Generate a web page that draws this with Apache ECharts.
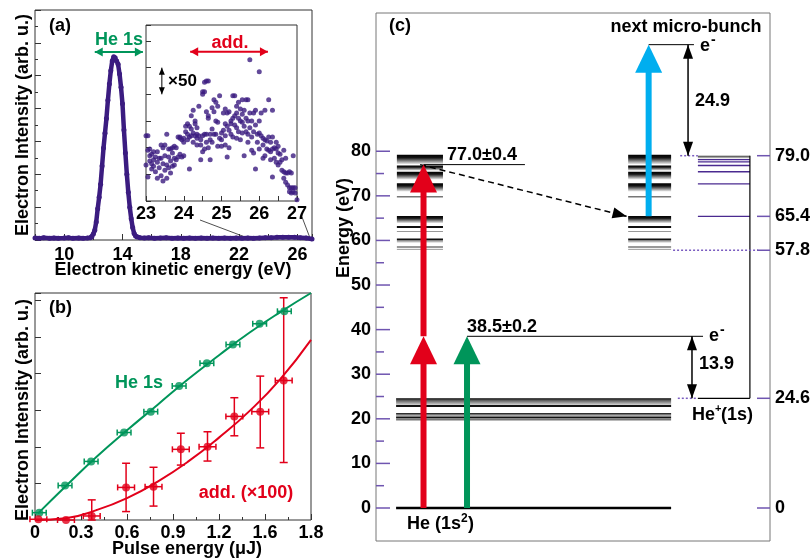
<!DOCTYPE html>
<html>
<head>
<meta charset="utf-8">
<title>He 1s / add. spectra and level scheme</title>
<script src="https://cdn.jsdelivr.net/npm/echarts@6.0.0/dist/echarts.min.js"></script>
<style>
  html, body { margin: 0; padding: 0; background: #fff; }
  #chart { width: 811px; height: 559px; }
</style>
</head>
<body>
<div id="chart"></div>
<script>
const FONT = '"Liberation Sans", Arial, Helvetica, sans-serif';
const PURPLE = '#3b1c80';
const GREEN = '#00955a';
const RED = '#e2001a';
const BLUE = '#00aeef';
const TICK_PURPLE = '#6f55b0';
const ION_PURPLE = '#4a2a90';
const FRAME = '#333';

// ---- (a) electron spectrum, eV vs arb. u.
const spectrum = [
  [8.0, 0.06], [8.3, 0.05], [8.6, 0.07], [9.0, 0.05], [9.3, 0.06], [9.6, 0.05], [10.0, 0.06],
  [10.3, 0.07], [10.6, 0.05], [11.0, 0.06], [11.3, 0.05], [11.6, 0.06], [11.8, 0.07], [11.9, 0.1],
  [12.0, 0.18], [12.1, 0.3], [12.2, 0.55], [12.3, 0.95], [12.4, 1.3], [12.5, 1.7], [12.6, 2.25],
  [12.7, 2.8], [12.8, 3.25], [12.9, 3.7], [13.0, 4.25], [13.1, 4.75], [13.2, 5.15], [13.3, 5.45],
  [13.4, 5.58], [13.5, 5.55], [13.6, 5.45], [13.7, 5.35], [13.8, 5.05], [13.9, 4.65], [14.0, 4.15],
  [14.1, 3.35], [14.2, 2.65], [14.3, 2.0], [14.4, 1.45], [14.5, 1.0], [14.6, 0.65], [14.7, 0.38],
  [14.8, 0.2], [14.9, 0.12], [15.0, 0.09], [15.2, 0.07], [15.5, 0.06], [15.8, 0.07], [16.2, 0.05],
  [16.6, 0.06], [17.0, 0.07], [17.4, 0.05], [17.8, 0.06], [18.2, 0.05], [18.6, 0.06], [19.0, 0.05],
  [19.4, 0.06], [19.8, 0.05], [20.2, 0.06], [20.6, 0.05], [21.0, 0.06], [21.4, 0.05], [21.8, 0.06],
  [22.2, 0.05], [22.6, 0.06], [23.0, 0.05], [23.4, 0.06], [23.8, 0.07], [24.2, 0.07], [24.6, 0.08],
  [25.0, 0.08], [25.4, 0.08], [25.8, 0.08], [26.2, 0.07], [26.6, 0.06], [27.0, 0.03]
];

// inset, 23-27 eV, scaled x50
const insetSpectrum = [
  [23.0, 2.45], [23.0, 1.35], [23.05, 2.45], [23.05, 1.9], [23.05, 0.9], [23.1, 1.95], [23.1, 1.7],
  [23.1, 1.5], [23.15, 1.75], [23.15, 1.4], [23.15, 1.2], [23.2, 1.85], [23.2, 1.55], [23.2, 1.3],
  [23.25, 1.65], [23.25, 1.1], [23.3, 1.85], [23.3, 0.85], [23.3, 1.45], [23.35, 1.6], [23.35, 1.25],
  [23.4, 2.1], [23.4, 1.6], [23.4, 0.95], [23.45, 2.0], [23.45, 1.4], [23.45, 0.75], [23.5, 2.1],
  [23.5, 1.7], [23.5, 1.15], [23.55, 2.5], [23.55, 1.35], [23.55, 0.85], [23.6, 1.95], [23.6, 1.65],
  [23.6, 1.25], [23.65, 1.95], [23.65, 1.5], [23.65, 1.05], [23.7, 2.0], [23.7, 1.8], [23.7, 1.3],
  [23.75, 2.05], [23.75, 1.6], [23.75, 1.35], [23.8, 2.0], [23.8, 1.55], [23.85, 2.4], [23.85, 1.65],
  [23.9, 2.4], [23.9, 2.35], [23.9, 1.75], [23.95, 2.3], [23.95, 1.65], [24.0, 2.35], [24.0, 2.2],
  [24.0, 1.7], [24.05, 2.8], [24.05, 2.6], [24.1, 2.9], [24.1, 2.5], [24.1, 2.3], [24.15, 2.8],
  [24.15, 2.4], [24.15, 1.2], [24.2, 3.2], [24.2, 2.7], [24.2, 2.45], [24.25, 3.4], [24.25, 2.55],
  [24.25, 2.2], [24.3, 3.0], [24.3, 2.45], [24.3, 2.9], [24.35, 2.75], [24.35, 2.5], [24.35, 2.35],
  [24.35, 2.1], [24.4, 3.55], [24.4, 2.45], [24.45, 2.3], [24.45, 2.1], [24.45, 1.55], [24.5, 4.1],
  [24.5, 4.0], [24.5, 2.45], [24.5, 1.85], [24.55, 4.1], [24.55, 4.45], [24.55, 2.5], [24.55, 1.95],
  [24.6, 4.5], [24.6, 3.35], [24.6, 2.5], [24.6, 2.2], [24.65, 4.5], [24.65, 3.2], [24.65, 3.1],
  [24.65, 2.0], [24.7, 2.5], [24.7, 2.3], [24.7, 1.55], [24.75, 3.5], [24.75, 2.7], [24.75, 2.2],
  [24.8, 3.8], [24.8, 3.35], [24.8, 2.5], [24.85, 3.7], [24.85, 3.0], [24.85, 2.5], [24.9, 3.55],
  [24.9, 2.95], [24.9, 2.05], [24.95, 3.95], [24.95, 2.35], [25.0, 2.55], [25.0, 2.3], [25.0, 2.05],
  [25.05, 3.3], [25.05, 2.65], [25.1, 3.45], [25.1, 2.9], [25.1, 2.45], [25.1, 2.1], [25.15, 3.3],
  [25.15, 2.8], [25.15, 1.65], [25.2, 3.35], [25.2, 2.65], [25.2, 2.0], [25.25, 3.0], [25.25, 2.9],
  [25.25, 2.5], [25.3, 3.95], [25.3, 3.1], [25.3, 2.4], [25.35, 3.95], [25.35, 3.2], [25.35, 2.85],
  [25.4, 3.55], [25.4, 3.3], [25.4, 2.75], [25.4, 2.35], [25.45, 3.7], [25.45, 3.1], [25.45, 2.6],
  [25.5, 3.45], [25.5, 3.0], [25.5, 2.3], [25.55, 3.8], [25.55, 3.25], [25.55, 2.95], [25.55, 2.55],
  [25.6, 3.4], [25.6, 2.8], [25.6, 1.7], [25.65, 3.8], [25.65, 3.1], [25.65, 2.6], [25.7, 3.8],
  [25.7, 3.0], [25.7, 2.5], [25.7, 2.2], [25.75, 5.3], [25.75, 3.3], [25.75, 2.75], [25.8, 3.0],
  [25.8, 2.4], [25.8, 1.9], [25.85, 3.3], [25.85, 2.6], [25.85, 1.8], [25.9, 3.4], [25.9, 2.85],
  [25.9, 1.2], [25.95, 2.5], [25.95, 2.2], [26.0, 4.85], [26.0, 3.0], [26.0, 2.55], [26.0, 1.95],
  [26.05, 3.3], [26.05, 2.45], [26.1, 2.35], [26.1, 2.1], [26.1, 1.6], [26.15, 3.4], [26.15, 2.3],
  [26.15, 1.7], [26.2, 2.25], [26.2, 1.95], [26.25, 3.8], [26.25, 2.4], [26.25, 1.9], [26.3, 2.2],
  [26.3, 1.85], [26.3, 1.55], [26.35, 3.4], [26.35, 2.4], [26.35, 1.95], [26.35, 0.9], [26.4, 2.0],
  [26.4, 1.6], [26.45, 2.2], [26.45, 1.95], [26.45, 1.45], [26.5, 2.05], [26.5, 1.8], [26.5, 1.35],
  [26.55, 1.75], [26.55, 1.45], [26.6, 1.55], [26.6, 1.15], [26.65, 1.9], [26.65, 1.1], [26.65, 0.85],
  [26.7, 1.6], [26.7, 1.05], [26.7, 0.7], [26.75, 1.05], [26.75, 0.6], [26.8, 1.1], [26.8, 0.5],
  [26.8, 0.35], [26.85, 1.05], [26.85, 0.5], [26.85, 0.3], [26.9, 1.7], [26.9, 0.5], [26.9, 0.35],
  [26.95, 0.5], [26.95, 0.3], [27.0, 0.05]
];

// ---- (b) yield vs pulse energy (uJ)
const pulseHe = [0.028, 0.196, 0.366, 0.581, 0.755, 0.94, 1.121, 1.291, 1.465, 1.626];
const yieldHe = [0.2, 0.94, 1.6, 2.39, 2.96, 3.66, 4.28, 4.79, 5.36, 5.7];
const pulseErrHe = [0.045, 0.045, 0.045, 0.045, 0.045, 0.045, 0.045, 0.045, 0.045, 0.045];
const pulseAdd = [0.022, 0.202, 0.37, 0.594, 0.773, 0.951, 1.125, 1.3, 1.469, 1.622];
const yieldAdd = [0.02, 0.0, 0.11, 0.89, 0.91, 1.93, 2.0, 2.83, 2.96, 3.81];
const pulseErrAdd = [0.055, 0.055, 0.055, 0.055, 0.055, 0.055, 0.055, 0.055, 0.055, 0.055];
const addErrLow = [0.02, 0.0, 0.0, 0.23, 0.38, 1.5, 1.61, 2.3, 1.97, 1.57];
const addErrHigh = [0.02, 0.0, 0.55, 1.55, 1.44, 2.37, 2.41, 3.34, 3.93, 6.07];
const fitHe = [[0.02, 0.18], [0.2, 0.92], [0.4, 1.72], [0.6, 2.45], [0.8, 3.15], [1.0, 3.85],
  [1.2, 4.5], [1.4, 5.12], [1.6, 5.68], [1.8, 6.2]];
const fitAdd = [[0, 0], [0.2, 0.05], [0.4, 0.27], [0.6, 0.6], [0.8, 1.05], [1.0, 1.6],
  [1.2, 2.25], [1.4, 2.98], [1.6, 3.85], [1.8, 4.92]];
const pulseTickLabels = ['0', '0.3', '0.6', '0.9', '1.2', '1.6', '1.8'];

// ---- (c) level scheme, eV
const energyTicks = [0, 10, 20, 30, 40, 50, 60, 70, 80];
const energyMinorTicks = [5, 15, 25, 35, 45, 55, 65, 75];
const markedEnergies = [79.0, 65.4, 57.8, 24.6, 0];
const doublyBands = [[79.2, 77.0], [76.8, 75.6], [75.4, 73.6], [72.8, 70.9], [65.5, 63.8]];
const doublyLines = [69.8, 63.0, 62.0, 60.2, 59.7, 58.5, 58.0];
const singlyBands = [[24.6, 23.0], [21.3, 20.5]];
const singlyLines = [22.85, 20.3, 19.8];
const ionLevels = [78.1, 77.6, 76.8, 75.4, 72.7, 65.4];
const ionLimitBand = [79.0, 78.4];
const groundState = 0;
const heIonization = 24.6;
const heDoubleIonization = 79.0;
const heN2Threshold = 65.4;
const lowestDoubly = 57.8;
const photonEnergy = 38.5;
const twoPhotonEnergy = 77.0;
const finalEnergy = 103.9;

// layout of panel (c) columns, in x units 0..100 across the frame
const doublyCols = [[5.3, 17.0], [64.0, 74.9]];
const wideCol = [5.1, 74.9];
const ionCol = [81.7, 94.9];
const redX = 12.06, greenX = 23.1, blueX = 69.2;

const bold = (size) => 'bold ' + size + 'px ' + FONT;

const chart = echarts.init(document.getElementById('chart'), null, { renderer: 'canvas' });

function headPoints(tip, tail, len, half) {
  const dx = tip[0] - tail[0], dy = tip[1] - tail[1];
  const d = Math.hypot(dx, dy) || 1;
  const ux = dx / d, uy = dy / d;
  const bx = tip[0] - ux * len, by = tip[1] - uy * len;
  return [tip, [bx - uy * half, by + ux * half], [bx + uy * half, by - ux * half]];
}

// styles for thin arrows
const arrowStyles = [
  { color: GREEN, lw: 2, len: 8, half: 4.5, heads: 2 },
  { color: RED, lw: 2, len: 8, half: 4.5, heads: 2 },
  { color: '#000', lw: 1, len: 7, half: 3, heads: 2 },
  { color: '#000', lw: 1.5, len: 14, half: 5, heads: 2 },
  { color: '#000', lw: 1.5, len: 14, half: 5.5, heads: 1, dash: [6, 4] }
];

function renderArrow(params, api) {
  const s = arrowStyles[api.value(4)];
  const p1 = api.coord([api.value(0), api.value(1)]);
  const p2 = api.coord([api.value(2), api.value(3)]);
  const children = [{
    type: 'line',
    shape: { x1: p1[0], y1: p1[1], x2: p2[0], y2: p2[1] },
    style: { stroke: s.color, lineWidth: s.lw, lineDash: s.dash || null }
  }, {
    type: 'polygon', shape: { points: headPoints(p2, p1, s.len, s.half) }, style: { fill: s.color }
  }];
  if (s.heads === 2) {
    children.push({ type: 'polygon', shape: { points: headPoints(p1, p2, s.len, s.half) }, style: { fill: s.color } });
  }
  return { type: 'group', children: children };
}

function errorBars(color) {
  return function (params, api) {
    const x = api.value(0), y = api.value(1), dx = api.value(2), lo = api.value(3), hi = api.value(4);
    const c = api.coord([x, y]);
    const l = api.coord([x - dx, y]), r = api.coord([x + dx, y]);
    const segs = [
      [l[0], c[1], r[0], c[1]], [l[0], c[1] - 3, l[0], c[1] + 3], [r[0], c[1] - 3, r[0], c[1] + 3]
    ];
    if (hi > lo) {
      const b = api.coord([x, lo]), t = api.coord([x, hi]);
      segs.push([c[0], b[1], c[0], t[1]], [c[0] - 4, b[1], c[0] + 4, b[1]], [c[0] - 4, t[1], c[0] + 4, t[1]]);
    }
    return {
      type: 'group',
      children: segs.map(s => ({
        type: 'line', shape: { x1: s[0], y1: s[1], x2: s[2], y2: s[3] }, style: { stroke: color, lineWidth: 1.5 }
      }))
    };
  };
}

// ---- build panel (c) tables
const bandGradients = [
  [[0, '#000'], [0.3, '#151515'], [1, '#fff']],
  [[0, '#000'], [0.25, '#555'], [1, '#e0e0e0']],
  [[0, '#333'], [1, '#ddd']]
];
const bandData = [];
doublyCols.forEach(c => doublyBands.forEach(b => bandData.push([c[0], c[1], b[0], b[1], 0])));
singlyBands.forEach(b => bandData.push([wideCol[0], wideCol[1], b[0], b[1], 1]));
bandData.push([ionCol[0], ionCol[1], ionLimitBand[0], ionLimitBand[1], 2]);

const segStyles = [
  { stroke: '#000', lw: 2.5 },
  { stroke: '#111', lw: 2 },
  { stroke: '#777', lw: 1.5 },
  { stroke: '#999', lw: 1 },
  { stroke: ION_PURPLE, lw: 1.3 },
  { stroke: '#000', lw: 1 },
  { stroke: '#7a5cc0', lw: 1.5, dash: [2, 2] },
  { stroke: '#000', lw: 1.2 }
];
const doublyLineKind = [2, 1, 3, 1, 3, 2, 3];
const singlyLineKind = [1, 1, 2];
const segData = [];
doublyCols.forEach(c => doublyLines.forEach((e, i) => segData.push([c[0], e, c[1], e, doublyLineKind[i]])));
singlyLines.forEach((e, i) => segData.push([wideCol[0], e, wideCol[1], e, singlyLineKind[i]]));
segData.push([wideCol[0], groundState, wideCol[1], groundState, 0]);
ionLevels.forEach(e => segData.push([ionCol[0], e, ionCol[1], e, 4]));
segData.push([ionCol[0], heIonization, ionCol[1], heIonization, 7]);
segData.push([ionCol[1], heIonization, ionCol[1], heDoubleIonization, 7]);
segData.push([77.2, heDoubleIonization, ionCol[0], heDoubleIonization, 6]);
segData.push([76.6, heIonization, ionCol[0], heIonization, 6]);
segData.push([75.4, lowestDoubly, 97.0, lowestDoubly, 6]);
segData.push([redX, twoPhotonEnergy, 37.8, twoPhotonEnergy, 5]);
segData.push([greenX, photonEnergy, 83.0, photonEnergy, 5]);
segData.push([blueX, finalEnergy, 80.7, finalEnergy, 5]);

const photonColors = [RED, GREEN, BLUE];
const photonData = [
  [redX, groundState, photonEnergy, 0],
  [redX, photonEnergy, twoPhotonEnergy, 0],
  [greenX, groundState, photonEnergy, 1],
  [blueX, heN2Threshold, finalEnergy, 2]
];

const tickData = energyTicks.map(e => [e, 0])
  .concat(energyMinorTicks.map(e => [e, 1]))
  .concat(markedEnergies.map(e => [e, 2]));

const cArrowData = [
  [79.2, finalEnergy, 79.2, heDoubleIonization, 3],
  [80.2, photonEnergy, 80.2, heIonization, 3],
  [11.2, twoPhotonEnergy, 63.6, heN2Threshold, 4]
];

const aArrowData = [[12.1, 5.72, 15.4, 5.72, 0]];
const insetArrowData = [[24.17, 5.6, 26.23, 5.6, 1], [23.42, 4.0, 23.42, 5.0, 2]];

// ---- axes helpers
const tickStyle = { show: true, inside: true, length: 6, lineStyle: { color: FRAME, width: 1 } };
const minorStyle = { show: true, splitNumber: 2, length: 3, lineStyle: { color: FRAME, width: 1 } };
const labelStyle = { color: '#000', fontFamily: FONT, fontWeight: 'bold', fontSize: 18 };

function text(str, x, y, opt) {
  opt = opt || {};
  const align = opt.align || 'left';
  return {
    type: 'text', x: x, y: y, rotation: opt.rot || 0, silent: true, z: 100,
    style: {
      text: str, font: bold(opt.size || 18), fill: opt.color || '#000',
      align: align, textAlign: align, verticalAlign: 'middle', textVerticalAlign: 'middle'
    }
  };
}

const option = {
  animation: false,
  backgroundColor: '#fff',
  grid: [
    { left: 35, top: 10, width: 277, height: 230, show: true, borderColor: FRAME, borderWidth: 1, containLabel: false, outerBoundsMode: 'none' },
    { left: 146, top: 25, width: 151, height: 176, show: true, borderColor: FRAME, borderWidth: 1, backgroundColor: '#fff', containLabel: false, outerBoundsMode: 'none' },
    { left: 35, top: 293, width: 276, height: 227, show: true, borderColor: FRAME, borderWidth: 1, containLabel: false, outerBoundsMode: 'none' },
    { left: 376, top: 13, width: 394, height: 528, show: true, borderColor: '#777', borderWidth: 1, containLabel: false, outerBoundsMode: 'none' }
  ],
  xAxis: [
    {
      gridIndex: 0, type: 'value', min: 8, max: 27, interval: 2,
      axisLine: { show: false }, splitLine: { show: false }, axisTick: tickStyle,
      axisLabel: Object.assign({ margin: 6, formatter: v => ((v - 10) % 4 === 0 ? String(v) : '') }, labelStyle)
    },
    {
      gridIndex: 1, type: 'value', min: 23, max: 27, interval: 0.5,
      axisLine: { show: false }, splitLine: { show: false }, axisTick: Object.assign({}, tickStyle, { length: 5 }),
      axisLabel: Object.assign({ margin: 4, showMinLabel: true, showMaxLabel: true, formatter: v => (Number.isInteger(v) ? String(v) : '') }, labelStyle)
    },
    {
      gridIndex: 2, type: 'value', min: 0, max: 1.8, interval: 0.3,
      axisLine: { show: false }, splitLine: { show: false }, axisTick: tickStyle, minorTick: minorStyle,
      axisLabel: Object.assign({
        margin: 4, showMinLabel: true, showMaxLabel: true,
        formatter: v => pulseTickLabels[Math.round(v / 0.3)] || ''
      }, labelStyle)
    },
    { gridIndex: 3, type: 'value', min: 0, max: 100, show: false }
  ],
  yAxis: [
    {
      gridIndex: 0, type: 'value', min: 0, max: 7, interval: 1,
      axisLine: { show: false }, splitLine: { show: false }, axisTick: tickStyle, minorTick: minorStyle,
      axisLabel: { show: false }
    },
    {
      gridIndex: 1, type: 'value', min: 0, max: 6.6, interval: 1,
      axisLine: { show: false }, splitLine: { show: false }, axisTick: Object.assign({}, tickStyle, { length: 5 }),
      axisLabel: { show: false }
    },
    {
      gridIndex: 2, type: 'value', min: 0, max: 6.2, interval: 1,
      axisLine: { show: false }, splitLine: { show: false }, axisTick: tickStyle,
      axisLabel: { show: false }
    },
    { gridIndex: 3, type: 'value', min: -7.4, max: 111, show: false }
  ],
  series: [
    {
      type: 'line', xAxisIndex: 0, yAxisIndex: 0, data: spectrum, silent: true,
      symbol: 'circle', symbolSize: 5, showSymbol: true, showAllSymbol: true,
      lineStyle: { color: PURPLE, width: 4.5 }, itemStyle: { color: PURPLE }
    },
    {
      type: 'scatter', xAxisIndex: 1, yAxisIndex: 1, data: insetSpectrum, silent: true,
      symbol: 'circle', symbolSize: 5, itemStyle: { color: PURPLE }
    },
    { type: 'custom', xAxisIndex: 0, yAxisIndex: 0, data: aArrowData, renderItem: renderArrow, silent: true, z: 5 },
    { type: 'custom', xAxisIndex: 1, yAxisIndex: 1, data: insetArrowData, renderItem: renderArrow, silent: true, z: 5 },
    {
      type: 'line', xAxisIndex: 2, yAxisIndex: 2, data: fitHe, smooth: true, symbol: 'none', silent: true,
      lineStyle: { color: GREEN, width: 2 }
    },
    {
      type: 'line', xAxisIndex: 2, yAxisIndex: 2, data: fitAdd, smooth: true, symbol: 'none', silent: true,
      lineStyle: { color: RED, width: 2 }
    },
    {
      type: 'custom', xAxisIndex: 2, yAxisIndex: 2, silent: true, z: 3,
      data: pulseHe.map((x, i) => [x, yieldHe[i], pulseErrHe[i], yieldHe[i], yieldHe[i]]),
      renderItem: errorBars(GREEN)
    },
    {
      type: 'custom', xAxisIndex: 2, yAxisIndex: 2, silent: true, z: 3,
      data: pulseAdd.map((x, i) => [x, yieldAdd[i], pulseErrAdd[i], addErrLow[i], addErrHigh[i]]),
      renderItem: errorBars(RED)
    },
    {
      type: 'scatter', xAxisIndex: 2, yAxisIndex: 2, silent: true, z: 4, symbolSize: 8,
      data: pulseHe.map((x, i) => [x, yieldHe[i]]), itemStyle: { color: GREEN }
    },
    {
      type: 'scatter', xAxisIndex: 2, yAxisIndex: 2, silent: true, z: 4, symbolSize: 8,
      data: pulseAdd.map((x, i) => [x, yieldAdd[i]]), itemStyle: { color: RED }
    },
    // (c) gradient bands of levels
    {
      type: 'custom', xAxisIndex: 3, yAxisIndex: 3, silent: true, z: 2, data: bandData,
      renderItem: function (params, api) {
        const p0 = api.coord([api.value(0), api.value(2)]);
        const p1 = api.coord([api.value(1), api.value(3)]);
        const stops = bandGradients[api.value(4)].map(s => ({ offset: s[0], color: s[1] }));
        return {
          type: 'rect',
          shape: { x: p0[0], y: p0[1], width: p1[0] - p0[0], height: p1[1] - p0[1] },
          style: { fill: new echarts.graphic.LinearGradient(0, 0, 0, 1, stops) }
        };
      }
    },
    // (c) level lines and guides
    {
      type: 'custom', xAxisIndex: 3, yAxisIndex: 3, silent: true, z: 3, data: segData,
      renderItem: function (params, api) {
        const s = segStyles[api.value(4)];
        const p1 = api.coord([api.value(0), api.value(1)]);
        const p2 = api.coord([api.value(2), api.value(3)]);
        return {
          type: 'line', shape: { x1: p1[0], y1: p1[1], x2: p2[0], y2: p2[1] },
          style: { stroke: s.stroke, lineWidth: s.lw, lineDash: s.dash || null }
        };
      }
    },
    // (c) photon arrows
    {
      type: 'custom', xAxisIndex: 3, yAxisIndex: 3, silent: true, z: 6, data: photonData,
      renderItem: function (params, api) {
        const color = photonColors[api.value(3)];
        const p0 = api.coord([api.value(0), api.value(1)]);
        const p1 = api.coord([api.value(0), api.value(2)]);
        const len = 28, half = 13.5, w = 6;
        return {
          type: 'group',
          children: [
            { type: 'rect', shape: { x: p0[0] - w / 2, y: p1[1] + len - 1, width: w, height: p0[1] - p1[1] - len + 1 }, style: { fill: color } },
            { type: 'polygon', shape: { points: [[p1[0], p1[1]], [p1[0] - half, p1[1] + len], [p1[0] + half, p1[1] + len]] }, style: { fill: color } }
          ]
        };
      }
    },
    { type: 'custom', xAxisIndex: 3, yAxisIndex: 3, data: cArrowData, renderItem: renderArrow, silent: true, z: 5 },
    // (c) energy ticks and labels
    {
      type: 'custom', xAxisIndex: 3, yAxisIndex: 3, silent: true, z: 4, data: tickData,
      renderItem: function (params, api) {
        const e = api.value(0), kind = api.value(1);
        if (kind === 2) {
          const p = api.coord([100, e]);
          return {
            type: 'group', children: [
              { type: 'line', shape: { x1: p[0] - 13, y1: p[1], x2: p[0], y2: p[1] }, style: { stroke: TICK_PURPLE, lineWidth: 1.5 } },
              { type: 'text', x: p[0] + 5, y: p[1], style: { text: e === 0 ? '0' : e.toFixed(1), font: bold(18), fill: '#000', align: 'left', textAlign: 'left', verticalAlign: 'middle', textVerticalAlign: 'middle' } }
            ]
          };
        }
        const p = api.coord([0, e]);
        const children = [
          { type: 'line', shape: { x1: p[0], y1: p[1], x2: p[0] + (kind === 0 ? 14 : 8), y2: p[1] }, style: { stroke: TICK_PURPLE, lineWidth: 1.5 } }
        ];
        if (kind === 0) {
          children.push({ type: 'text', x: p[0] - 5, y: p[1], style: { text: String(e), font: bold(18), fill: '#000', align: 'right', textAlign: 'right', verticalAlign: 'middle', textVerticalAlign: 'middle' } });
        }
        return { type: 'group', children: children };
      }
    }
  ],
  graphic: {
    elements: [
      // panel (a)
      text('(a)', 49, 26),
      text('He 1s', 119, 40, { align: 'center', color: GREEN }),
      text('add.', 230, 43, { align: 'center', color: RED }),
      text('\u00d750', 168, 81, { size: 17 }),
      { type: 'line', silent: true, shape: { x1: 200, y1: 220, x2: 253, y2: 240 }, style: { stroke: '#222', lineWidth: 0.8 } },
      { type: 'line', silent: true, shape: { x1: 302, y1: 217, x2: 310, y2: 238 }, style: { stroke: '#222', lineWidth: 0.8 } },
      text('Electron kinetic energy (eV)', 173, 270, { align: 'center' }),
      text('Electron Intensity (arb. u.)', 23, 125, { align: 'center', rot: Math.PI / 2 }),
      // panel (b)
      text('(b)', 49, 308),
      text('He 1s', 139, 383, { align: 'center', color: GREEN }),
      text('add. (\u00d7100)', 246, 493, { align: 'center', color: RED }),
      text('Pulse energy (\u03bcJ)', 187, 549, { align: 'center' }),
      text('Electron Intensity (arb. u.)', 23, 410, { align: 'center', rot: Math.PI / 2 }),
      // panel (c)
      text('(c)', 389, 26),
      text('next micro-bunch', 686, 27, { align: 'center' }),
      text('e', 700, 46),
      text('-', 711, 40, { size: 14 }),
      text('24.9', 695, 101),
      text('77.0\u00b10.4', 447, 155),
      text('38.5\u00b10.2', 467, 327),
      text('e', 709, 336),
      text('-', 720, 330, { size: 14 }),
      text('13.9', 699, 364),
      text('He', 692, 415),
      text('+', 715, 409, { size: 11 }),
      text('(1s)', 721, 415),
      text('He (1s', 407, 524),
      text('2', 461, 519, { size: 12 }),
      text(')', 468, 524),
      text('Energy (eV)', 344, 228, { align: 'center', rot: Math.PI / 2 })
    ]
  }
};

chart.setOption(option);
</script>
</body>
</html>
